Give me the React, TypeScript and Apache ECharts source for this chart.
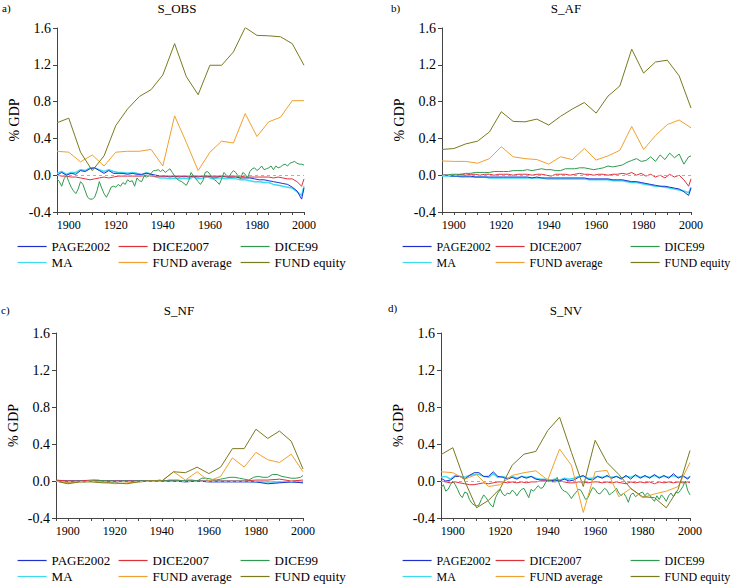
import React, { useEffect, useRef } from 'react';
import * as echarts from 'echarts';

// ---------- years (categories) ----------
const YEARS_1: number[] = [];
for (let y = 1895; y <= 2000; y++) YEARS_1.push(y);
const YEARS_2: number[] = [];
for (let y = 1895; y < 2000; y += 2) YEARS_2.push(y);
YEARS_2.push(2000);
const YEARS_5: number[] = [];
for (let y = 1895; y <= 2000; y += 5) YEARS_5.push(y);

const SERIES_NAMES = ['PAGE2002', 'DICE2007', 'DICE99', 'MA', 'FUND average', 'FUND equity'];
const X_TICK_LABELS = [1900, 1920, 1940, 1960, 1980, 2000];

// ---------- a) S_OBS ----------
const A_PAGE2002 = [
  0.00, 0.03, 0.00, 0.02, 0.01, 0.05, 0.04, 0.07, 0.08, 0.05,
  0.02, 0.05, 0.02, 0.02, 0.02, 0.01, 0.02, 0.01, 0.01, 0.02,
  0.01, 0.00, -0.01, -0.01, -0.02, -0.01, -0.02, -0.01, -0.02, -0.01,
  -0.02, -0.01, -0.01, -0.02, -0.02, -0.01, -0.02, -0.02, -0.02, -0.03,
  -0.03, -0.03, -0.04, -0.05, -0.05, -0.06, -0.07, -0.08, -0.09, -0.10,
  -0.13, -0.17, -0.26, -0.14];
const A_DICE2007 = [
  0.00, -0.01, -0.01, -0.02, -0.02, -0.03, -0.04, -0.05, -0.04, -0.03,
  -0.02, -0.03, -0.02, -0.01, -0.01, -0.01, -0.01, -0.01, -0.01, 0.00,
  -0.01, -0.01, -0.01, -0.01, -0.01, -0.01, -0.01, -0.01, -0.01, -0.01,
  -0.01, -0.01, -0.01, -0.01, -0.01, -0.01, -0.01, -0.01, -0.01, -0.01,
  -0.02, -0.02, -0.02, -0.02, -0.02, -0.02, -0.03, -0.02, -0.03, -0.04,
  -0.04, -0.07, -0.12, -0.04];
const A_DICE99 = [
  -0.04, -0.07, -0.12, -0.04, 0.00, -0.07, -0.13, -0.17, -0.20, -0.15,
  -0.07, -0.10, -0.17, -0.24, -0.26, -0.26, -0.24, -0.17, -0.07, -0.14,
  -0.20, -0.24, -0.19, -0.13, -0.12, -0.13, -0.10, -0.12, -0.08, -0.10,
  -0.05, -0.07, -0.06, -0.12, -0.03, -0.06, -0.07, -0.01, -0.02, -0.01,
  0.02, 0.05, 0.05, 0.06, 0.04, 0.06, 0.03, 0.05, 0.07, 0.03,
  -0.01, -0.04, -0.06, -0.07, -0.09, -0.11, -0.06, 0.03, -0.01, -0.04,
  -0.07, -0.10, -0.06, 0.03, 0.04, 0.01, -0.03, -0.05, -0.07, -0.10,
  -0.04, 0.03, 0.00, -0.03, 0.02, 0.05, 0.03, -0.01, -0.04, 0.03,
  0.01, -0.03, 0.04, 0.07, 0.08, 0.05, 0.07, 0.10, 0.06, 0.07,
  0.08, 0.10, 0.06, 0.10, 0.08, 0.09, 0.11, 0.12, 0.10, 0.13,
  0.14, 0.15, 0.13, 0.12, 0.12, 0.11];
const A_MA = [
  0.02, 0.04, 0.01, 0.03, 0.03, 0.06, 0.05, 0.08, 0.08, 0.06,
  0.04, 0.06, 0.04, 0.03, 0.03, 0.02, 0.03, 0.02, 0.00, 0.03,
  0.01, -0.02, -0.03, -0.03, -0.04, -0.03, -0.04, -0.03, -0.04, -0.02,
  -0.04, -0.03, -0.02, -0.04, -0.03, -0.03, -0.04, -0.03, -0.04, -0.05,
  -0.05, -0.06, -0.07, -0.07, -0.08, -0.08, -0.10, -0.11, -0.12, -0.13,
  -0.14, -0.18, -0.22, -0.12];
const A_FUND_AVG = [0.26, 0.25, 0.145, 0.22, 0.10, 0.25, 0.26, 0.26, 0.28, 0.10, 0.645, 0.355, 0.05, 0.25, 0.37, 0.35, 0.67, 0.42, 0.58, 0.63, 0.81, 0.81];
const A_FUND_EQ = [0.57, 0.62, 0.25, 0.05, 0.21, 0.54, 0.72, 0.855, 0.93, 1.09, 1.43, 1.07, 0.875, 1.195, 1.195, 1.34, 1.605, 1.52, 1.515, 1.505, 1.43, 1.195];

// ---------- b) S_AF ----------
const B_PAGE2002 = [
  0.00, 0.00, -0.01, -0.01, -0.01, -0.01, -0.01, -0.02, -0.02, -0.02,
  -0.02, -0.02, -0.02, -0.02, -0.02, -0.02, -0.02, -0.02, -0.02, -0.03,
  -0.02, -0.03, -0.03, -0.03, -0.03, -0.03, -0.03, -0.03, -0.03, -0.03,
  -0.03, -0.04, -0.04, -0.04, -0.04, -0.04, -0.05, -0.05, -0.05, -0.06,
  -0.07, -0.07, -0.08, -0.09, -0.10, -0.11, -0.12, -0.12, -0.13, -0.14,
  -0.15, -0.18, -0.22, -0.14];
const B_DICE2007 = [
  0.00, 0.00, 0.00, 0.00, 0.01, 0.00, 0.01, 0.01, 0.00, 0.01,
  0.01, 0.00, 0.01, 0.01, 0.01, 0.00, 0.01, 0.01, 0.01, 0.00,
  0.01, 0.01, 0.00, -0.01, 0.01, 0.01, 0.01, 0.00, 0.01, 0.02,
  0.01, 0.01, 0.00, 0.01, 0.01, 0.00, 0.01, 0.01, 0.02, 0.01,
  0.03, 0.00, 0.02, -0.01, 0.01, -0.02, 0.00, -0.03, 0.01, -0.02,
  0.00, -0.05, -0.12, -0.04];
const B_DICE99 = [
  0.00, 0.00, 0.01, 0.01, 0.01, 0.02, 0.02, 0.03, 0.03, 0.03,
  0.03, 0.04, 0.04, 0.04, 0.04, 0.05, 0.05, 0.05, 0.06, 0.05,
  0.06, 0.07, 0.06, 0.06, 0.05, 0.05, 0.07, 0.07, 0.07, 0.08,
  0.08, 0.07, 0.06, 0.07, 0.08, 0.10, 0.09, 0.10, 0.11, 0.14,
  0.16, 0.18, 0.15, 0.16, 0.20, 0.15, 0.22, 0.17, 0.24, 0.19,
  0.23, 0.12, 0.20, 0.21];
const B_MA = [
  -0.01, -0.01, -0.01, -0.01, -0.02, -0.02, -0.02, -0.02, -0.02, -0.02,
  -0.03, -0.03, -0.03, -0.03, -0.03, -0.03, -0.03, -0.03, -0.03, -0.03,
  -0.03, -0.03, -0.04, -0.04, -0.04, -0.04, -0.04, -0.04, -0.04, -0.04,
  -0.04, -0.05, -0.05, -0.05, -0.05, -0.05, -0.06, -0.06, -0.06, -0.07,
  -0.08, -0.08, -0.09, -0.10, -0.11, -0.12, -0.12, -0.13, -0.14, -0.15,
  -0.16, -0.17, -0.19, -0.13];
const B_FUND_AVG = [0.155, 0.15, 0.15, 0.13, 0.18, 0.31, 0.20, 0.18, 0.17, 0.12, 0.20, 0.17, 0.29, 0.165, 0.21, 0.27, 0.53, 0.28, 0.43, 0.55, 0.60, 0.515];
const B_FUND_EQ = [0.28, 0.29, 0.34, 0.37, 0.47, 0.69, 0.585, 0.58, 0.61, 0.545, 0.64, 0.72, 0.79, 0.675, 0.86, 0.97, 1.37, 1.11, 1.23, 1.25, 1.08, 0.73];

// ---------- c) S_NF ----------
const C_PAGE2002 = [0, 0, 0, 0, 0, 0, 0, 0, 0, 0, 0, -0.01, 0.00, -0.01, -0.01, -0.01, -0.01, -0.01, -0.03, -0.02, -0.01, -0.02];
const C_DICE2007 = [0.01, 0.00, 0.00, 0.01, 0.00, 0.00, 0.00, 0.00, 0.00, 0.00, 0.00, 0.00, 0.00, 0.00, 0.00, 0.00, 0.00, 0.01, 0.01, 0.02, 0.00, 0.01];
const C_DICE99 = [
  0.00, -0.01, -0.02, -0.01, -0.01, 0.00, -0.01, 0.00, 0.01, 0.01,
  0.00, 0.00, 0.00, -0.01, 0.00, 0.00, -0.01, 0.00, 0.00, 0.00,
  0.00, 0.00, 0.01, 0.00, 0.01, 0.01, 0.01, 0.00, 0.01, 0.01,
  0.00, 0.03, 0.03, 0.02, 0.01, 0.02, 0.03, 0.04, 0.04, 0.03,
  0.02, 0.01, 0.04, 0.05, 0.04, 0.04, 0.07, 0.07, 0.05, 0.04,
  0.03, 0.03, 0.04, 0.06];
const C_MA = [0, 0, 0, 0, 0, 0, 0, 0, 0, 0, 0, 0, 0, 0, 0, 0, 0, -0.01, -0.01, -0.01, -0.01, -0.01];
const C_FUND_AVG = [0.00, -0.02, -0.01, 0.00, -0.01, -0.03, -0.02, -0.01, 0.00, 0.00, 0.10, 0.01, 0.10, 0.00, 0.05, 0.25, 0.15, 0.31, 0.23, 0.20, 0.29, 0.10];
const C_FUND_EQ = [0.00, -0.03, -0.01, -0.01, -0.02, -0.02, -0.03, -0.01, 0.00, 0.00, 0.10, 0.09, 0.15, 0.08, 0.15, 0.35, 0.35, 0.56, 0.46, 0.54, 0.43, 0.13];

// ---------- d) S_NV ----------
const D_PAGE2002 = [
  0.03, 0.00, 0.01, 0.05, 0.05, 0.02, 0.06, 0.09, 0.09, 0.05,
  0.05, 0.10, 0.05, 0.04, 0.02, 0.04, 0.02, 0.05, 0.03, 0.05,
  0.02, 0.01, 0.01, 0.00, 0.01, 0.00, 0.02, 0.00, 0.01, 0.04,
  0.06, 0.02, 0.01, 0.05, 0.03, 0.06, 0.03, 0.05, 0.02, 0.06,
  0.02, 0.07, 0.03, 0.06, 0.03, 0.07, 0.03, 0.06, 0.03, 0.08,
  0.03, 0.06, 0.02, 0.05];
const D_DICE2007 = [
  0.00, -0.01, -0.02, -0.01, -0.02, -0.03, -0.04, -0.04, -0.03, -0.02,
  -0.03, -0.02, -0.01, -0.01, -0.02, -0.01, -0.02, -0.01, -0.02, -0.01,
  -0.01, 0.00, 0.00, 0.00, -0.01, 0.00, -0.01, -0.02, -0.02, -0.01,
  -0.01, -0.02, -0.01, -0.01, -0.02, -0.01, -0.02, -0.01, -0.02, -0.03,
  -0.01, -0.02, -0.01, -0.02, -0.01, -0.03, -0.01, -0.02, -0.01, -0.02,
  -0.01, -0.02, -0.01, -0.02];
const D_DICE99 = [
  -0.07, -0.04, -0.11, -0.09, -0.04, 0.00, -0.04, -0.09, -0.15, -0.18,
  -0.12, -0.13, -0.20, -0.24, -0.26, -0.27, -0.26, -0.20, -0.15, -0.18,
  -0.22, -0.26, -0.28, -0.18, -0.13, -0.09, -0.14, -0.16, -0.13, -0.14,
  -0.10, -0.12, -0.16, -0.12, -0.09, -0.08, -0.13, -0.18, -0.09, -0.11,
  -0.08, -0.05, -0.08, -0.07, -0.02, 0.01, 0.00, -0.01, 0.01, 0.04,
  -0.04, -0.09, -0.11, -0.12, -0.15, -0.19, -0.15, -0.12, -0.09, -0.10,
  -0.15, -0.20, -0.18, -0.12, -0.07, -0.09, -0.13, -0.14, -0.11, -0.08,
  -0.10, -0.15, -0.13, -0.11, -0.08, -0.13, -0.16, -0.13, -0.17, -0.23,
  -0.15, -0.13, -0.17, -0.15, -0.13, -0.12, -0.16, -0.13, -0.15, -0.19,
  -0.22, -0.16, -0.20, -0.15, -0.18, -0.22, -0.16, -0.13, -0.17, -0.12,
  -0.13, -0.10, -0.06, 0.00, -0.10, -0.15];
const D_MA = [
  0.04, 0.05, 0.02, 0.06, 0.05, 0.04, 0.06, 0.07, 0.07, 0.05,
  0.04, 0.08, 0.04, 0.05, 0.03, 0.05, 0.03, 0.05, 0.04, 0.05,
  0.03, 0.02, 0.02, 0.01, 0.02, 0.01, 0.03, 0.02, 0.03, 0.05,
  0.05, 0.03, 0.03, 0.05, 0.04, 0.05, 0.04, 0.05, 0.03, 0.05,
  0.04, 0.06, 0.04, 0.05, 0.04, 0.06, 0.04, 0.05, 0.04, 0.06,
  0.04, 0.05, 0.03, 0.05];
const D_FUND_AVG = [0.10, 0.09, 0.02, 0.07, -0.06, -0.04, 0.06, 0.09, 0.11, 0.01, 0.345, 0.17, -0.34, 0.10, 0.115, -0.17, -0.08, -0.18, -0.14, -0.11, -0.06, 0.20];
const D_FUND_EQ = [0.285, 0.36, 0.00, -0.29, -0.21, -0.08, 0.17, 0.29, 0.32, 0.545, 0.69, 0.31, -0.06, 0.44, 0.20, 0.07, -0.08, -0.17, -0.18, -0.29, -0.09, 0.33];

const PANELS = [
  { title: 'S_OBS', tag: 'a)', lines: [[YEARS_2, A_PAGE2002], [YEARS_2, A_DICE2007], [YEARS_1, A_DICE99], [YEARS_2, A_MA], [YEARS_5, A_FUND_AVG], [YEARS_5, A_FUND_EQ]] },
  { title: 'S_AF', tag: 'b)', lines: [[YEARS_2, B_PAGE2002], [YEARS_2, B_DICE2007], [YEARS_2, B_DICE99], [YEARS_2, B_MA], [YEARS_5, B_FUND_AVG], [YEARS_5, B_FUND_EQ]] },
  { title: 'S_NF', tag: 'c)', lines: [[YEARS_5, C_PAGE2002], [YEARS_5, C_DICE2007], [YEARS_2, C_DICE99], [YEARS_5, C_MA], [YEARS_5, C_FUND_AVG], [YEARS_5, C_FUND_EQ]] },
  { title: 'S_NV', tag: 'd)', lines: [[YEARS_2, D_PAGE2002], [YEARS_2, D_DICE2007], [YEARS_1, D_DICE99], [YEARS_2, D_MA], [YEARS_5, D_FUND_AVG], [YEARS_5, D_FUND_EQ]] },
];

// ---------- styles / layout ----------
const COLORS = ['#1f2fd0', '#e0303a', '#2e9a50', '#3cdcf0', '#f0a030', '#7a7a1e'];
const SERIF = '"Liberation Serif", "Times New Roman", serif';
const LAYOUT = [
  { left: 57, top: 28, width: 247, height: 184, titleX: 177, titleY: 8, tagX: 2, tagY: 8, legendTop: 240, legendLeft: [17, 118, 240], legendFont: 13 },
  { left: 442, top: 28, width: 249, height: 184, titleX: 566, titleY: 8, tagX: 391, tagY: 8, legendTop: 240, legendLeft: [402, 495, 630], legendFont: 12 },
  { left: 56, top: 333, width: 247, height: 185, titleX: 179, titleY: 310, tagX: 1, tagY: 310, legendTop: 554, legendLeft: [17, 118, 240], legendFont: 13 },
  { left: 441, top: 333, width: 249, height: 185, titleX: 566, titleY: 310, tagX: 388, tagY: 308, legendTop: 554, legendLeft: [402, 495, 630], legendFont: 12 },
];
const LEGEND_COLUMNS = [['PAGE2002', 'MA'], ['DICE2007', 'FUND average'], ['DICE99', 'FUND equity']];

function buildOption() {
  const grid = LAYOUT.map((L) => ({
    left: L.left, top: L.top, width: L.width, height: L.height,
    containLabel: false, outerBoundsMode: 'none',
  }));
  const xAxis = LAYOUT.map((_, i) => ({
    type: 'value', gridIndex: i, min: 1895, max: 2000, interval: 5,
    axisLine: { show: true, onZero: false, lineStyle: { color: '#444', width: 1 } },
    axisTick: { show: true, length: 3, lineStyle: { color: '#444' } },
    axisLabel: {
      formatter: (v: number) => (X_TICK_LABELS.indexOf(v) >= 0 ? String(v) : ''),
      fontFamily: SERIF, fontSize: 12, color: '#000', margin: 7,
      showMinLabel: true, showMaxLabel: true,
    },
    splitLine: { show: false },
  }));
  const yAxis = LAYOUT.map((_, i) => ({
    type: 'value', gridIndex: i, min: -0.4, max: 1.6, interval: 0.4,
    name: '% GDP', nameLocation: 'middle', nameGap: 36,
    nameTextStyle: { fontFamily: SERIF, fontSize: 14, color: '#000' },
    axisLine: { show: true, lineStyle: { color: '#444', width: 1 } },
    axisTick: { show: true, length: 4, lineStyle: { color: '#444' } },
    axisLabel: { formatter: (v: number) => v.toFixed(1), fontFamily: SERIF, fontSize: 14, color: '#000', margin: 6 },
    splitLine: { show: false },
  }));
  const series: any[] = [];
  PANELS.forEach((p, i) => {
    p.lines.forEach((pair: any, k: number) => {
      const yrs: number[] = pair[0];
      const vals: number[] = pair[1];
      const s: any = {
        type: 'line', name: SERIES_NAMES[k], xAxisIndex: i, yAxisIndex: i,
        data: yrs.map((y, j) => [y, vals[j]]),
        showSymbol: false, symbol: 'none', color: COLORS[k],
        lineStyle: { width: k === 3 ? 1.5 : 1, color: COLORS[k] },
        silent: true, z: k === 3 ? 1 : 2,
      };
      if (k === 0) {
        s.markLine = {
          silent: true, symbol: 'none', label: { show: false },
          lineStyle: { type: [3, 3], color: '#b0b0b0', width: 1 },
          data: [{ yAxis: 0 }],
        };
      }
      series.push(s);
    });
  });
  const legend: any[] = [];
  LAYOUT.forEach((L) => {
    LEGEND_COLUMNS.forEach((names, c) => {
      legend.push({
        orient: 'vertical', left: L.legendLeft[c], top: L.legendTop, padding: 0,
        itemWidth: 29, itemHeight: 1, itemGap: 3, selectedMode: false,
        lineStyle: { width: 1.2 },
        itemStyle: { opacity: 0 },
        data: names,
        textStyle: { fontFamily: SERIF, fontSize: L.legendFont, color: '#000', lineHeight: 13 },
      });
    });
  });
  const graphic: any[] = [];
  LAYOUT.forEach((L, i) => {
    graphic.push({
      type: 'text', x: L.titleX, y: L.titleY, silent: true,
      style: { text: PANELS[i].title, font: '13px ' + SERIF, fill: '#000', textAlign: 'center', textVerticalAlign: 'middle', align: 'center', verticalAlign: 'middle' },
    });
    graphic.push({
      type: 'text', x: L.tagX, y: L.tagY, silent: true,
      style: { text: PANELS[i].tag, font: '11px ' + SERIF, fill: '#000', textAlign: 'left', textVerticalAlign: 'middle', align: 'left', verticalAlign: 'middle' },
    });
  });
  return {
    animation: false,
    backgroundColor: '#ffffff',
    textStyle: { fontFamily: SERIF },
    grid, xAxis, yAxis, series, legend, graphic,
  };
}

export default function App() {
  const ref = useRef<HTMLDivElement>(null);
  useEffect(() => {
    if (!ref.current) return;
    const chart = echarts.init(ref.current, undefined, { renderer: 'svg' });
    chart.setOption(buildOption() as any);
    return () => chart.dispose();
  }, []);
  return (
    <div
      ref={ref}
      style={{ position: 'fixed', left: 0, top: 0, width: 733, height: 584, background: '#fff' }}
    />
  );
}
